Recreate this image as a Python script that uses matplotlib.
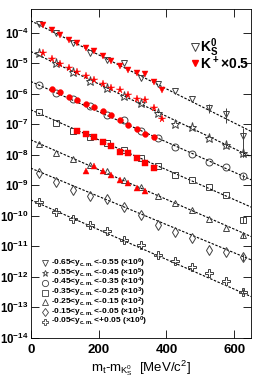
import matplotlib
matplotlib.use('Agg')
import matplotlib.pyplot as plt

plt.rcParams['font.family'] = ['Liberation Sans', 'DejaVu Sans']
plt.rcParams['font.weight'] = 'bold'
plt.rcParams['mathtext.default'] = 'regular'

## Data (already scaled as plotted)

mt_k0s = [25, 75, 125, 175, 225, 275, 325, 375, 425, 475, 525, 575, 625]

k0s_1 = [1.98e-4, 1.0e-4, 4.70e-5, 2.20e-5, 1.30e-5, 1.04e-5, 3.33e-6, 2.11e-6,
         1.25e-6, 6.8e-7, 3.44e-7, 2.19e-7, 4.14e-8]
k0s_2 = [2.16e-5, 1.01e-5, 4.97e-6, 2.65e-6, 1.53e-6, 8.54e-7, 5.03e-7, 2.41e-7,
         1.00e-7, 8.0e-8, 3.48e-8, 2.10e-8, 1.12e-8]
k0s_3 = [1.96e-6, 1.07e-6, 6.55e-7, 3.85e-7, 1.95e-7, 1.34e-7, 6.05e-8, 3.48e-8,
         1.76e-8, 1.02e-8, 5.8e-9, 3.97e-9, 1.97e-9]
k0s_4 = [2.55e-7, 1.07e-7, 6.05e-8, 3.85e-8, 2.35e-8, 1.44e-8, 7.57e-9, 4.13e-9,
         2.17e-9, 1.43e-9, 8.77e-10, 4.61e-10, 7.23e-11]
k0s_5 = [2.26e-8, 1.12e-8, 7.11e-9, 4.62e-9, 3.01e-9, 1.49e-9, 8.77e-10, 4.54e-10,
         2.55e-10, 1.54e-10, 7.80e-11, 3.86e-11, 2.32e-11]
k0s_6 = [2.58e-9, 1.31e-9, 6.98e-10, 4.54e-10, 3.46e-10, 1.89e-10, 1.05e-10, 4.95e-11,
         2.98e-11, 1.81e-11, 7.48e-12, 6.57e-12, 4.50e-12]
k0s_7 = [2.75e-10, 1.35e-10, 7.80e-11, 4.95e-11, 3.22e-11, 1.59e-11, 1.09e-11, 5.12e-12,
         3.32e-12, 2.11e-12, 1.34e-12, 7.33e-13, 3.19e-13]

# errors visible only on the last bins
k0s_err_1 = [0, 0, 0, 0, 0, 0, 0, 0, 0, 0, 1.1e-7, 1.1e-7, 3.3e-8]
k0s_err_2 = [0, 0, 0, 0, 0, 0, 0, 0, 0, 0, 0, 4e-9, 3e-9]
k0s_err_3 = [0, 0, 0, 0, 0, 0, 0, 0, 0, 0, 0, 0, 4e-10]
k0s_err_4 = [0, 0, 0, 0, 0, 0, 0, 0, 0, 0, 0, 0, 1.5e-11]
k0s_err_5 = [0, 0, 0, 0, 0, 0, 0, 0, 0, 0, 0, 0, 5e-12]
k0s_err_6 = [0, 0, 0, 0, 0, 0, 0, 0, 0, 0, 0, 0, 1.2e-12]
k0s_err_7 = [0, 0, 0, 0, 0, 0, 0, 0, 0, 0, 0, 0, 6e-14]

mt_kp_1 = [37.5, 62.5, 87.5, 112.5, 137.5, 162.5, 187.5, 212.5, 237.5, 262.5,
           287.5, 312.5, 337.5, 362.5, 387.5]
kp_1 = [1.76e-4, 1.21e-4, 8.6e-5, 5.89e-5, 4.59e-5, 3.22e-5, 2.56e-5, 1.76e-5,
        1.20e-5, 7.82e-6, 5.86e-6, 4.67e-6, 4.50e-6, 2.33e-6, 1.34e-6]
mt_kp_2 = mt_kp_1
kp_2 = [2.12e-5, 1.35e-5, 9.6e-6, 6.83e-6, 5.24e-6, 3.73e-6, 2.75e-6, 2.11e-6,
        1.56e-6, 1.34e-6, 9.2e-7, 6.65e-7, 6.31e-7, 3.32e-7, 1.44e-7]
mt_kp_3 = [62.5, 87.5, 112.5, 137.5, 162.5, 187.5, 212.5, 237.5, 262.5,
           287.5, 312.5, 337.5, 362.5]
kp_3 = [1.40e-6, 1.11e-6, 7.91e-7, 6.31e-7, 4.66e-7, 3.57e-7, 2.64e-7, 2.03e-7,
        1.39e-7, 9.5e-8, 7.04e-8, 4.82e-8, 3.85e-8]
mt_kp_4 = [137.5, 162.5, 187.5, 212.5, 237.5, 262.5, 287.5, 312.5, 337.5, 362.5]
kp_4 = [6.05e-8, 4.71e-8, 3.76e-8, 2.69e-8, 1.94e-8, 1.26e-8, 1.12e-8, 7.67e-9,
        5.26e-9, 3.69e-9]
mt_kp_5 = [162.5, 187.5, 212.5, 237.5, 262.5, 287.5, 312.5, 337.5]
kp_5 = [3.01e-9, 4.29e-9, 2.94e-9, 2.17e-9, 1.49e-9, 1.16e-9, 7.94e-10, 6.48e-10]

# fit lines (exponential, straight on log scale) given by their end values
fit_x = [0, 650]
fit_1 = [2.48e-4, 5.74e-8]
fit_2 = [2.43e-5, 8.48e-9]
fit_3 = [2.52e-6, 1.49e-9]
fit_4 = [2.96e-7, 1.89e-10]
fit_5 = [3.06e-8, 2.04e-11]
fit_6 = [3.61e-9, 3.51e-12]
fit_7 = [3.28e-10, 2.19e-13]

rap_bins = ['-0.65<y$_{c.m.}$<-0.55', '-0.55<y$_{c.m.}$<-0.45', '-0.45<y$_{c.m.}$<-0.35',
            '-0.35<y$_{c.m.}$<-0.25', '-0.25<y$_{c.m.}$<-0.15', '-0.15<y$_{c.m.}$<-0.05',
            '-0.05<y$_{c.m.}$<+0.05']
scale_exp = [6, 5, 4, 3, 2, 1, 0]

markers = ['v', '*', 'o', 's', '^', 'd', 'P']
k0s_sizes = [5, 6.5, 5, 5, 5, 5, 5.5]

k0s_all = [k0s_1, k0s_2, k0s_3, k0s_4, k0s_5, k0s_6, k0s_7]
k0s_err_all = [k0s_err_1, k0s_err_2, k0s_err_3, k0s_err_4, k0s_err_5, k0s_err_6, k0s_err_7]
fit_all = [fit_1, fit_2, fit_3, fit_4, fit_5, fit_6, fit_7]
kp_x_all = [mt_kp_1, mt_kp_2, mt_kp_3, mt_kp_4, mt_kp_5]
kp_all = [kp_1, kp_2, kp_3, kp_4, kp_5]
kp_sizes = [4.2, 5.5, 4.2, 4.0, 4.2]

open_col = '#404040'
red = '#ff0000'

fig = plt.figure(figsize=(2.67, 3.81), dpi=100)
ax = fig.add_axes([30.7/267, 43.5/381, 220.6/267, 328.5/381])

for i in range(7):
    ax.plot(fit_x, fit_all[i], color='black', lw=0.8, ls=(0, (2.2, 1.4)), zorder=1)
    ax.errorbar(mt_k0s, k0s_all[i], yerr=k0s_err_all[i], fmt='none', ecolor=open_col,
                elinewidth=0.7, capsize=0, zorder=2)
    ax.plot(mt_k0s, k0s_all[i], ls='none', marker=markers[i], ms=k0s_sizes[i],
            mfc='none', mec=open_col, mew=0.7, zorder=3)

for i in range(5):
    ax.plot(kp_x_all[i], kp_all[i], ls='none', marker=markers[i], ms=kp_sizes[i],
            mfc=red, mec=red, mew=0.3, zorder=4)

ax.set_yscale('log')
ax.set_xlim(0, 650)
ax.set_ylim(1e-14, 6e-4)
ax.set_yticks([10.0**(-k) for k in range(4, 15)])
ax.set_xticks([0, 200, 400, 600])
ax.tick_params(which='both', direction='in', top=True, right=True)
ax.tick_params(which='major', length=6, width=0.6)
ax.tick_params(which='minor', length=3, width=0.5)
ax.tick_params(axis='x', which='minor', bottom=False, top=False)
ax.tick_params(axis='y', pad=1.5, labelsize=8.3)
ax.tick_params(axis='x', pad=5, labelsize=9.5)
for sp in ax.spines.values():
    sp.set_linewidth(0.6)

ax.set_xlabel(r'm$_t$-m$_{K^0_S}$  [MeV/c$^2$]', fontsize=9.5, labelpad=1)

# rapidity legend (lower left)
for i in range(7):
    yy = 0.226 - i*0.0297
    ax.plot([0.065], [yy], transform=ax.transAxes, marker=markers[i], ms=4.5,
            mfc='none', mec=open_col, mew=0.6, ls='none', clip_on=False)
    ax.text(0.092, yy, rap_bins[i] + r' ($\times$10$^{%d}$)' % scale_exp[i],
            transform=ax.transAxes, fontsize=6.0, va='center', ha='left')

# particle legend (upper right)
ax.plot([0.745], [0.883], transform=ax.transAxes, marker='v', ms=6, mfc='none',
        mec=open_col, mew=0.7, ls='none')
ax.text(0.768, 0.883, r'K$^0_S$', transform=ax.transAxes, fontsize=10, va='center')
ax.plot([0.745], [0.835], transform=ax.transAxes, marker='v', ms=5, mfc=red,
        mec=red, ls='none')
ax.text(0.768, 0.835, r'K$^+$$\times$0.5', transform=ax.transAxes, fontsize=10,
        va='center')

plt.savefig('out.png', dpi=100)
